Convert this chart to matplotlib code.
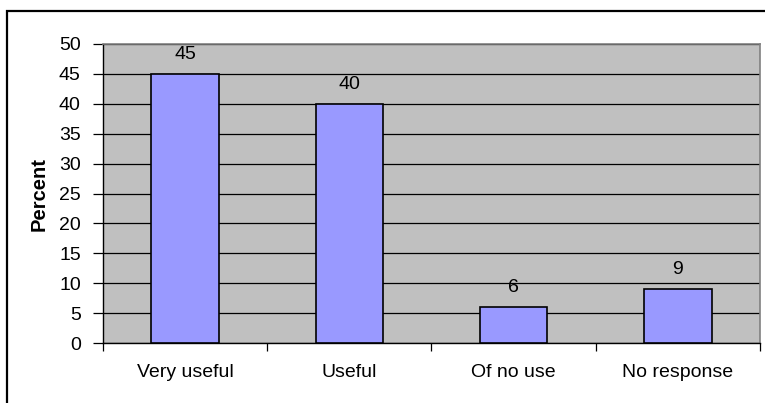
import matplotlib.pyplot as plt
import matplotlib.patches as patches
import numpy as np

DPI = 100
W, H = 765, 403

categories = ["Very useful", "Useful", "Of no use", "No response"]
percent = [45, 40, 6, 9]
yticks = list(range(0, 55, 5))

plt.rcParams['font.family'] = ['Liberation Sans', 'DejaVu Sans']

fig = plt.figure(figsize=(W/DPI, H/DPI), dpi=DPI)

# outer chart frame (only top and left edges are visible in the source)
fig.patches.append(patches.Rectangle((7/W, -0.1), 1.2, 1 - 11/H + 0.1,
                                     transform=fig.transFigure, fill=False,
                                     edgecolor='black', linewidth=1.6))

left, right, top, bottom = 103, 760, 44, 343
ax = fig.add_axes([left/W, 1 - bottom/H, (right-left)/W, (bottom-top)/H])
ax.set_facecolor('#C0C0C0')

x = np.arange(len(categories))
ax.bar(x, percent, width=0.41, color='#9999FF', edgecolor='black',
       linewidth=1.2, zorder=3)
for xi, v in zip(x, percent):
    ax.text(xi, v + 3.3, str(v), ha='center', va='center', fontsize=14, zorder=4)

ax.set_xlim(-0.5, len(categories) - 0.5)
ax.set_ylim(0, 50)
ax.set_yticks(yticks)
ax.yaxis.grid(True, color='black', linewidth=0.9, zorder=1)
ax.set_axisbelow(True)

ax.set_xticks(np.arange(-0.5, len(categories), 1.0))
ax.set_xticklabels([])
ax.set_xticks(x, minor=True)
ax.set_xticklabels(categories, minor=True, fontsize=14)
ax.tick_params(axis='x', which='minor', length=0, pad=15)
ax.tick_params(axis='x', which='major', length=6, direction='out', width=0.9)
ax.tick_params(axis='y', length=7, direction='out', width=0.9, labelsize=14, pad=9)

for side in ('top', 'right'):
    ax.spines[side].set_color('#808080')
    ax.spines[side].set_linewidth(1.2)
for side in ('left', 'bottom'):
    ax.spines[side].set_color('black')
    ax.spines[side].set_linewidth(1.0)

fig.text(39/W, 1 - 194/H, "Percent", rotation=90, ha='center', va='center',
         fontsize=14.5, fontweight='bold')

plt.savefig('out.png', dpi=DPI)
